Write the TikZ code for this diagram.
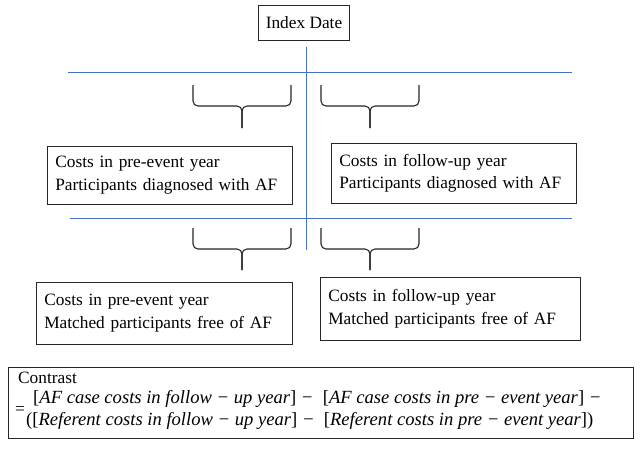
\documentclass[tikz,border=0pt]{standalone}
\usepackage{fontspec}
\setmainfont{Liberation Serif}
\usepackage{tikz}
\definecolor{lineblue}{RGB}{68,114,196}

\begin{document}
\begin{tikzpicture}[x=1pt,y=-1pt,
		txt/.style={font=\fontsize{17.3}{22.5}\selectfont},
		eqn/.style={font=\fontsize{18.6}{22}\selectfont\itshape,inner sep=0pt,anchor=west},
		box/.style={txt,draw=black!85,line width=0.7pt,align=left,inner xsep=8pt,anchor=north west},
		rule/.style={draw=lineblue,line width=0.9pt},
		curly/.style={draw=black!85,line width=1.1pt,rounded corners=5pt}]
		\useasboundingbox (0,0) rectangle (640,455);

		\node[txt,draw=black!85,line width=0.7pt,minimum width=91pt,minimum height=35pt,inner sep=0pt] (I) at (304,22.5) {Index Date};

		\node[box,text width=229pt,minimum height=58pt] (A) at (47,146) {Costs in pre-event year\\Participants diagnosed with AF};
		\node[box,text width=229pt,minimum height=60pt] (B) at (331,143) {Costs in follow-up year\\Participants diagnosed with AF};
		\node[box,text width=240pt,minimum height=62pt] (A') at (36,282) {Costs in pre-event year\\Matched participants free of AF};
		\node[box,text width=244pt,minimum height=63pt] (B') at (320,277) {Costs in follow-up year\\Matched participants free of AF};

		\node[draw=black!85,line width=0.7pt,minimum width=625pt,minimum height=71pt,inner sep=0pt] (C) at (320.5,402.5) {};
		\node[txt,anchor=west,inner sep=0pt] (Ct) at (18,378) {Contrast};
		\node[txt,anchor=west,inner sep=0pt] (Ceq) at (15,411) {=};
		\node[eqn] (E) at (33,399) {\textup{[}AF case costs in follow − up year\textup{]} −\enspace\textup{[}AF case costs in pre − event year\textup{]} −};
		\node[eqn] (E') at (26,421) {\textup{([}Referent costs in follow − up year\textup{]} −\enspace\textup{[}Referent costs in pre − event year\textup{])}};

		% time lines
		\coordinate (t0) at (306,47);
		\coordinate (t1) at (306,250);
		\coordinate (l0) at (68,72);
		\coordinate (l1) at (572,72);
		\coordinate (m0) at (70,218);
		\coordinate (m1) at (572,218);
		\draw[rule] (t0) -- (t1);
		\draw[rule] (l0) -- (l1);
		\draw[rule] (m0) -- (m1);

		% braces
		\draw[curly] (193,85) |- (242,106) -- (242,128);
		\draw[curly] (291,85) |- (242,106) -- (242,128);
		\draw[curly] (321,85) |- (370,106) -- (370,128);
		\draw[curly] (419,85) |- (370,106) -- (370,128);
		\draw[curly] (193,228) |- (242,249) -- (242,270);
		\draw[curly] (291,228) |- (242,249) -- (242,270);
		\draw[curly] (321,228) |- (370,249) -- (370,270);
		\draw[curly] (419,228) |- (370,249) -- (370,270);
\end{tikzpicture}
\end{document}
